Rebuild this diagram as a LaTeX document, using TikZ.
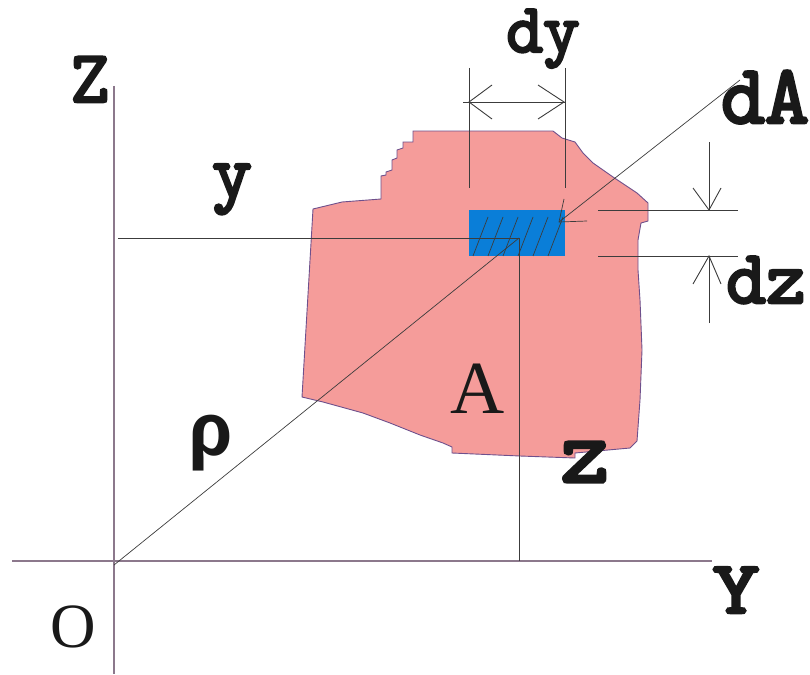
\documentclass[tikz,border=0pt]{standalone}
\usepackage{fontspec}
\setmainfont{Liberation Serif}
\newfontfamily\slab{lmmono10-regular.otf}[FakeBold=3.5]
\newfontfamily\rhofont{Liberation Mono}
\definecolor{pinkfill}{RGB}{245,156,154}
\definecolor{pinkedge}{RGB}{110,80,140}
\definecolor{bluefill}{RGB}{10,126,216}
\definecolor{axiscol}{RGB}{140,120,140}
\definecolor{linecol}{RGB}{60,60,60}
\tikzset{
  lbl/.style={inner sep=0pt, anchor=base, text=black!90},
  slablbl/.style={lbl, text height=0.6em, text depth=0.2em},
  axisline/.style={draw=axiscol, line width=1.1pt},
  thin line/.style={draw=linecol, line width=0.9pt},
  dimline/.style={draw=linecol, line width=0.9pt},
}
\newcommand\slabsize[1]{\slab\fontsize{#1}{#1}\selectfont}
\begin{document}
\begin{tikzpicture}[x=1pt,y=-1pt]
\useasboundingbox (0,0) rectangle (810,674);
% cross-section A
\path[fill=pinkfill, draw=pinkedge, line width=0.9pt]
 (413,131) -- (553,131) -- (562,138) -- (575,142) -- (583,153) -- (593,163)
 -- (613,177) -- (637,193) -- (648,203) -- (648,221) -- (641,223)
 -- (638,240) -- (638,270) -- (640,300) -- (642,350) -- (640,400) -- (637,441)
 -- (630,448) -- (575,453) -- (575,458) -- (520,456) -- (452,453) -- (452,447)
 -- (443,443) -- (420,435) -- (390,423) -- (363,413) -- (323,402) -- (302,397)
 -- (313,209) -- (342,202) -- (381,199) -- (381,176) -- (386,175) -- (386,172)
 -- (392,170) -- (392,160) -- (397,158) -- (397,150) -- (403,148) -- (403,142)
 -- (413,142) -- cycle;
% element dA
\node[draw=none, fill=bluefill, minimum width=96pt, minimum height=46pt, inner sep=0pt, anchor=north west] (dArect) at (469,210) {};
\begin{scope}
\clip (469,210) rectangle (565,256);
\foreach \k in {0,...,5} {
  \draw[thin line, line width=0.7pt] (473+15*\k,256) -- (488+15*\k,217);
}
\end{scope}
% axes
\coordinate (Ztop) at (114,86);
\coordinate (Zbot) at (114,674);
\coordinate (Yleft) at (12,561);
\coordinate (Yright) at (712,561);
\draw[axisline] (Ztop) -- (Zbot);
\draw[axisline] (Yleft) -- (Yright);
% coordinate lines
\coordinate (P) at (519,238);
\coordinate (Py) at (118,238);
\coordinate (Pz) at (519,561);
\coordinate (O) at (114,565);
\draw[thin line] (Py) -- (P);
\draw[thin line] (P) -- (Pz);
\draw[thin line, line width=0.7pt] (O) -- (P);
% dA leader
\coordinate (tip) at (559,222);
\coordinate (lead) at (740,80);
\draw[thin line, line width=0.7pt] (lead) -- (tip);
\draw[thin line, line width=0.7pt] (564,199) -- (tip) -- (587,221);
% dy dimension
\coordinate (e1a) at (469,68); \coordinate (e1b) at (469,188);
\coordinate (e2a) at (565,68); \coordinate (e2b) at (565,188);
\draw[dimline] (e1a) -- (e1b);
\draw[dimline] (e2a) -- (e2b);
\coordinate (dyL) at (463,102); \coordinate (dyR) at (565,102);
\draw[dimline] (dyL) -- (dyR);
\draw[dimline] (492,85) -- (469,102) -- (492,119);
\draw[dimline] (538,85) -- (564,102) -- (538,119);
% dz dimension
\coordinate (f1a) at (598,210); \coordinate (f1b) at (738,210);
\coordinate (f2a) at (598,256); \coordinate (f2b) at (738,256);
\draw[dimline] (f1a) -- (f1b);
\draw[dimline] (f2a) -- (f2b);
\coordinate (a1s) at (709,142); \coordinate (a1t) at (709,210);
\coordinate (a2s) at (709,323); \coordinate (a2t) at (709,256);
\draw[dimline] (a1s) -- (a1t);
\draw[dimline] (693,188) -- (a1t) -- (721,188);
\draw[dimline] (a2s) -- (a2t);
\draw[dimline] (693,284) -- (a2t) -- (721,284);
% labels
\node[slablbl, font=\slabsize{70}] (ldy) at (543,52) {dy};
\node[slablbl, font=\slabsize{84}] (ldA) at (765,123) {dA};
\node[slablbl, font=\slabsize{76}] (ldz) at (766,303) {dz};
\node[slablbl, font=\slabsize{74}] (lZ) at (90,102) {Z};
\node[slablbl, font=\slabsize{76}] (ly) at (232,197) {y};
\node[slablbl, font=\slabsize{93}] (lz) at (585,482) {z};
\node[slablbl, font=\rhofont\bfseries\fontsize{75}{75}\selectfont] (lrho) at (211,455) {ρ};
\node[slablbl, font=\slabsize{75}] (lY) at (736,613) {\scalebox{1.2}[1]{Y}};
\node[lbl, font=\fontsize{75}{75}\selectfont] (lA) at (478,413) {A};
\node[lbl, font=\fontsize{63}{63}\selectfont] (lO) at (73.5,647) {O};
\end{tikzpicture}
\end{document}
